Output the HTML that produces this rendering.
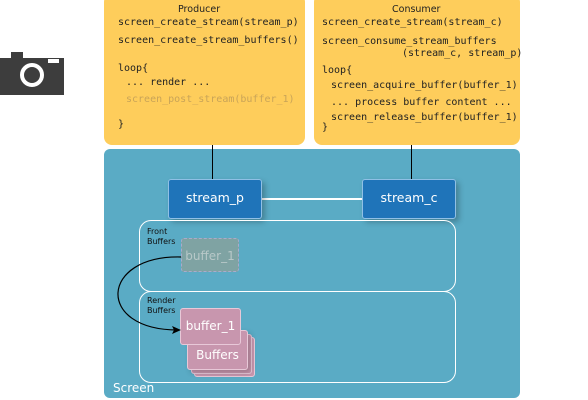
<!DOCTYPE html>
<html><head><style>
body{margin:0;width:588px;height:400px;background:#fff;position:relative;overflow:hidden;font-family:"DejaVu Sans","Liberation Sans",sans-serif}
.a{position:absolute}
.y{background:#fecd5b;border-radius:8px}
.m{font-family:"DejaVu Sans Mono","Liberation Mono",monospace;font-size:10px;color:#222;white-space:pre;position:absolute}
.t{font-size:9.5px;color:#222;position:absolute}
.bl{background:#1f74b9;border:1px solid #8fc0e6;border-radius:3px;color:#fff;font-size:12.5px;text-align:center;box-shadow:3px 3px 6px rgba(0,0,0,.25)}
.c{border:1px solid #fff;border-radius:12px}
.s{font-size:8px;color:#111;line-height:10px}
</style></head><body>
<svg class="a" style="left:0;top:50px" width="66" height="46"><rect x="0" y="8" width="64" height="37" fill="#3d3d3d"/><rect x="11" y="2" width="12" height="8" fill="#3d3d3d"/><rect x="48" y="9" width="11" height="4" fill="#fff"/><circle cx="32" cy="25" r="10" fill="none" stroke="#fff" stroke-width="4"/></svg>
<div class="a y" style="left:104px;top:-6px;width:201px;height:151px"></div>
<div class="a y" style="left:314px;top:-6px;width:206px;height:151px"></div>
<div class="t" style="left:178px;top:4px">Producer</div>
<div class="m" style="left:118px;top:17px">screen_create_stream(stream_p)</div>
<div class="m" style="left:118px;top:35px">screen_create_stream_buffers()</div>
<div class="m" style="left:118px;top:63px">loop{</div>
<div class="m" style="left:126px;top:77px">... render ...</div>
<div class="m" style="left:126px;top:94px;color:#c9a458">screen_post_stream(buffer_1)</div>
<div class="m" style="left:118px;top:119px">}</div>
<div class="t" style="left:392px;top:4px">Consumer</div>
<div class="m" style="left:322px;top:17px">screen_create_stream(stream_c)</div>
<div class="m" style="left:322px;top:36px">screen_consume_stream_buffers</div>
<div class="m" style="left:402px;top:48px">(stream_c, stream_p)</div>
<div class="m" style="left:322px;top:65px">loop{</div>
<div class="m" style="left:331px;top:80px">screen_acquire_buffer(buffer_1)</div>
<div class="m" style="left:331px;top:97px">... process buffer content ...</div>
<div class="m" style="left:331px;top:112px">screen_release_buffer(buffer_1)</div>
<div class="m" style="left:322px;top:122px">}</div>
<div class="a" style="left:104px;top:149px;width:416px;height:249px;background:#5aabc5;border-radius:6px"></div>
<div class="a" style="left:212px;top:145px;width:1px;height:34px;background:#000"></div>
<div class="a" style="left:411px;top:145px;width:1px;height:34px;background:#000"></div>
<div class="a" style="left:261px;top:198px;width:101px;height:2px;background:#fff"></div>
<div class="a bl" style="left:168px;top:179px;width:92px;height:38px;line-height:36px">stream_p</div>
<div class="a bl" style="left:362px;top:179px;width:92px;height:38px;line-height:36px">stream_c</div>
<div class="a c" style="left:139px;top:220px;width:315px;height:70px"></div>
<div class="a c" style="left:139px;top:291px;width:315px;height:90px"></div>
<div class="a s" style="left:147px;top:227px">Front<br>Buffers</div>
<div class="a s" style="left:147px;top:296px">Render<br>Buffers</div>
<div class="a" style="left:181px;top:238px;width:58px;height:34px;background:#7fa3a3;border:1px dashed #aac;border-radius:3px;color:#b8c8c8;font-size:12px;line-height:34px;text-align:center;box-sizing:border-box">buffer_1</div>
<div class="a" style="left:194px;top:337px;width:59px;height:38px;background:#c896ae;border:1px solid #e8c8d8;border-radius:3px"></div>
<div class="a" style="left:191px;top:334px;width:59px;height:38px;background:#c896ae;border:1px solid #e8c8d8;border-radius:3px"></div>
<div class="a" style="left:187px;top:330px;width:59px;height:38px;background:#c896ae;border:1px solid #e8c8d8;border-radius:3px;color:#fff;font-size:12px;line-height:48px;text-align:center;box-shadow:3px 3px 6px rgba(0,0,0,.2)">Buffers</div>
<div class="a" style="left:180px;top:308px;width:59px;height:35px;background:#c896ae;border:1px solid #e8c8d8;border-radius:3px;color:#fff;font-size:12px;line-height:35px;text-align:center">buffer_1</div>
<svg class="a" style="left:0;top:0" width="588" height="400"><path d="M181 257 C100 255,95 330,178 330" fill="none" stroke="#000" stroke-width="1.2"/><path d="M181 330 L172 326 L174 330 L172 334 Z" fill="#000"/></svg>
<div class="a" style="left:113px;top:381px;color:#fff;font-size:12px">Screen</div>
</body></html>
